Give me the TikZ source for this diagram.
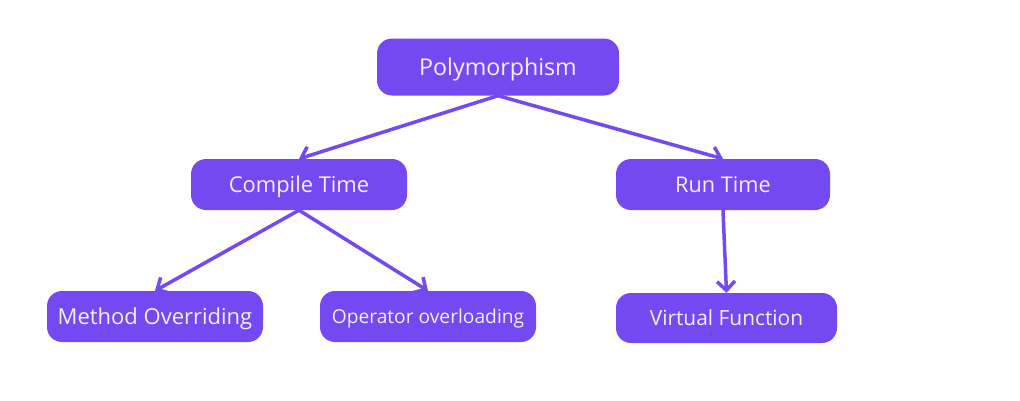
\documentclass[tikz,border=0pt]{standalone}
\usepackage{fontspec}
\setmainfont{Open Sans}
\usetikzlibrary{arrows.meta}
\definecolor{purp}{HTML}{7549F2}
\definecolor{txt}{HTML}{F4F0FF}
\tikzset{
  box/.style={fill=purp, rounded corners=15pt, text=txt, inner sep=0pt, text depth=0pt, text height=15.5pt, font=\fontsize{21.7}{26}\selectfont},
  link/.style={draw=purp, line width=3.5pt, -{Straight Barb[length=9pt,width=18pt,line width=3.5pt]}, line cap=round}
}
\begin{document}
\begin{tikzpicture}[x=1pt,y=-1pt]
\useasboundingbox (0,0) rectangle (1020,400);
\node[box, minimum width=242pt, minimum height=57pt, text height=16.6pt, font=\fontsize{23.2}{28}\selectfont] (poly) at (498,67) {Polymorphism};
\node[box, minimum width=216pt, minimum height=51pt, text height=15.6pt, font=\fontsize{21.9}{26}\selectfont] (ct) at (299,184.5) {Compile Time};
\node[box, minimum width=214pt, minimum height=51pt] (rt) at (723,184.5) {Run Time};
\node[box, minimum width=216pt, minimum height=51pt, text height=15.7pt, font=\fontsize{22}{26}\selectfont] (mo) at (155,316.5) {Method Overriding};
\node[box, minimum width=216pt, minimum height=51pt, text height=13.7pt, font=\fontsize{19.2}{23}\selectfont] (oo) at (428,316.5) {Operator overloading};
\node[box, minimum width=221pt, minimum height=50pt, text height=14.9pt, font=\fontsize{20.9}{25}\selectfont] (vf) at (726.5,318) {Virtual Function};
\draw[link] (poly.south) -- (ct.north);
\draw[link] (poly.south) -- (rt.north);
\draw[link] (ct.south) -- (mo.north);
\draw[link] (ct.south) -- (oo.north);
\draw[link] (rt.south) -- (vf.north);
\end{tikzpicture}
\end{document}
